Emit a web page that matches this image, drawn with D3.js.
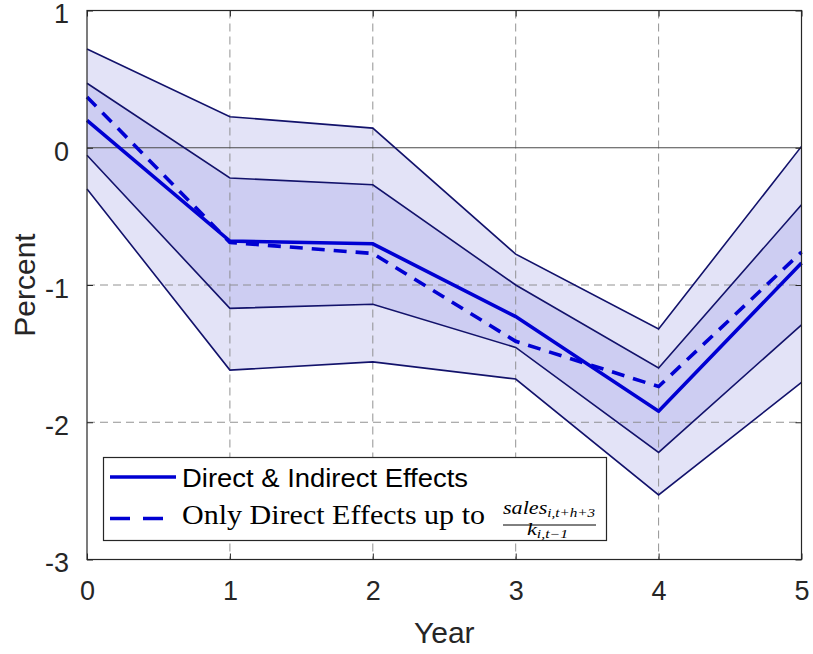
<!DOCTYPE html>
<html>
<head>
<meta charset="utf-8">
<script src="https://cdn.jsdelivr.net/npm/d3@7"></script>
<style>
  html, body { margin: 0; padding: 0; background: #fff; }
  svg { display: block; }
</style>
</head>
<body>
<svg id="chart" width="813" height="654"></svg>
<script>
// Horizon (years) and impulse responses, in percent
const years = [0, 1, 2, 3, 4, 5];
const directIndirect = [0.20, -0.68, -0.70, -1.23, -1.92, -0.84];
const directOnly     = [0.37, -0.69, -0.77, -1.41, -1.74, -0.76];
// Confidence bands around the direct & indirect response
const innerUpper = [0.47, -0.22, -0.27, -1.00, -1.605, -0.415];
const innerLower = [-0.055, -1.17, -1.14, -1.455, -2.22, -1.29];
const outerUpper = [0.72, 0.226, 0.143, -0.775, -1.32, 0.01];
const outerLower = [-0.30, -1.62, -1.56, -1.685, -2.53, -1.71];
const xTicks = [0, 1, 2, 3, 4, 5];
const yTicks = [1, 0, -1, -2, -3];

(function draw() {
  const svg = d3.select("#chart");
  const pl = 87, pr = 801.5, pt = 10.5, pb = 559.5;

  const x = d3.scaleLinear().domain([0, 5]).range([pl, pr]);
  const y = d3.scaleLinear().domain([-3, 1]).range([pb, pt]);

  const band = (lo, hi) => d3.area()
    .x((d, i) => x(years[i]))
    .y0((d, i) => y(lo[i]))
    .y1((d, i) => y(hi[i]))(years);
  const line = vals => d3.line()
    .x((d, i) => x(years[i]))
    .y((d, i) => y(vals[i]))(years);

  const plot = svg.append("g");

  // Shaded bands
  plot.append("path").attr("d", band(outerLower, outerUpper)).attr("fill", "#e3e3f7");
  plot.append("path").attr("d", band(innerLower, innerUpper)).attr("fill", "#cdcdf2");

  // Grid
  const grid = plot.append("g").attr("stroke", "#888").attr("stroke-width", 1)
    .attr("stroke-dasharray", "8,5").attr("opacity", 0.9);
  grid.selectAll("line.gx").data(xTicks.slice(1, -1)).join("line")
    .attr("x1", d => x(d)).attr("x2", d => x(d)).attr("y1", pt).attr("y2", pb);
  grid.selectAll("line.gy").data(yTicks.filter(d => d !== 1 && d !== -3 && d !== 0)).join("line")
    .attr("y1", d => y(d)).attr("y2", d => y(d)).attr("x1", pl).attr("x2", pr);

  // Zero line
  plot.append("line").attr("x1", pl).attr("x2", pr)
    .attr("y1", y(0)).attr("y2", y(0)).attr("stroke", "#4a4a4a").attr("stroke-width", 1.2);

  // Band edges
  [outerUpper, innerUpper, innerLower, outerLower].forEach(v => {
    plot.append("path").attr("d", line(v)).attr("fill", "none")
      .attr("stroke", "#12126b").attr("stroke-width", 1.6);
  });

  // Responses
  plot.append("path").attr("d", line(directOnly)).attr("fill", "none")
    .attr("stroke", "#0000d2").attr("stroke-width", 3.6).attr("stroke-dasharray", "13,9");
  plot.append("path").attr("d", line(directIndirect)).attr("fill", "none")
    .attr("stroke", "#0000d2").attr("stroke-width", 3.6);

  // Axes box and ticks
  const axisColor = "#262626";
  svg.append("rect").attr("x", pl).attr("y", pt).attr("width", pr - pl).attr("height", pb - pt)
    .attr("fill", "none").attr("stroke", axisColor).attr("stroke-width", 1.2);

  const fmt = d => String(d);
  const gx = svg.append("g").attr("transform", `translate(0,${pb})`)
    .call(d3.axisBottom(x).tickValues(xTicks).tickSize(-6).tickPadding(21).tickFormat(fmt));
  const gxt = svg.append("g").attr("transform", `translate(0,${pt})`)
    .call(d3.axisTop(x).tickValues(xTicks).tickSize(-6).tickFormat(""));
  const gy = svg.append("g").attr("transform", `translate(${pl},0)`)
    .call(d3.axisLeft(y).tickValues(yTicks).tickSize(-6).tickPadding(18).tickFormat(fmt));
  const gyr = svg.append("g").attr("transform", `translate(${pr},0)`)
    .call(d3.axisRight(y).tickValues(yTicks).tickSize(-6).tickFormat(""));

  [gx, gxt, gy, gyr].forEach(g => {
    g.select(".domain").remove();
    g.selectAll(".tick line").attr("stroke", axisColor).attr("stroke-width", 1);
    g.selectAll("text").attr("fill", "#262626")
      .style("font-family", "'Liberation Sans', Arial, sans-serif").style("font-size", "27px");
  });
  gy.selectAll("text").attr("dy", "0.46em");

  // Axis titles
  svg.append("text").attr("x", (pl + pr) / 2).attr("y", 643)
    .attr("text-anchor", "middle").attr("fill", "#262626")
    .style("font-family", "'Liberation Sans', Arial, sans-serif").style("font-size", "30px").text("Year");
  svg.append("text").attr("transform", `translate(35,${(pt + pb) / 2}) rotate(-90)`)
    .attr("text-anchor", "middle").attr("fill", "#262626")
    .style("font-family", "'Liberation Sans', Arial, sans-serif").style("font-size", "30px").text("Percent");

  // Legend
  const lg = svg.append("g");
  lg.append("rect").attr("x", 103.5).attr("y", 457.5).attr("width", 503).attr("height", 83)
    .attr("fill", "#fff").attr("stroke", axisColor).attr("stroke-width", 1.2);
  lg.append("line").attr("x1", 110).attr("x2", 176).attr("y1", 477).attr("y2", 477)
    .attr("stroke", "#0000d2").attr("stroke-width", 3.6);
  lg.append("line").attr("x1", 110).attr("x2", 176).attr("y1", 518.5).attr("y2", 518.5)
    .attr("stroke", "#0000d2").attr("stroke-width", 3.6).attr("stroke-dasharray", "20,13");
  lg.append("text").attr("x", 182).attr("y", 487)
    .attr("fill", "#000").style("font-family", "'Liberation Sans', Arial, sans-serif")
    .style("font-size", "25px").attr("textLength", 286).attr("lengthAdjust", "spacingAndGlyphs")
    .text("Direct & Indirect Effects");
  lg.append("text").attr("x", 182).attr("y", 524)
    .attr("fill", "#000").style("font-family", "'Liberation Serif', 'Times New Roman', serif")
    .style("font-size", "27px").attr("textLength", 303).attr("lengthAdjust", "spacingAndGlyphs")
    .text("Only Direct Effects up to");

  // Fraction sales_{i,t+h+3} / k_{i,t-1}
  const num = lg.append("text").attr("x", 503).attr("y", 514)
    .attr("textLength", 92).attr("lengthAdjust", "spacingAndGlyphs")
    .style("font-family", "'Liberation Serif', serif").style("font-style", "italic").attr("fill", "#000");
  num.append("tspan").style("font-size", "19px").text("sales");
  num.append("tspan").style("font-size", "13px").attr("dy", 3).text("i,t+h+3");
  lg.append("line").attr("x1", 503).attr("x2", 596).attr("y1", 525).attr("y2", 525)
    .attr("stroke", "#000").attr("stroke-width", 1);
  const den = lg.append("text").attr("x", 527).attr("y", 535)
    .attr("textLength", 41).attr("lengthAdjust", "spacingAndGlyphs")
    .style("font-family", "'Liberation Serif', serif").style("font-style", "italic").attr("fill", "#000");
  den.append("tspan").style("font-size", "17px").text("k");
  den.append("tspan").style("font-size", "12px").attr("dy", 3).text("i,t\u22121");
})();
</script>
</body>
</html>
